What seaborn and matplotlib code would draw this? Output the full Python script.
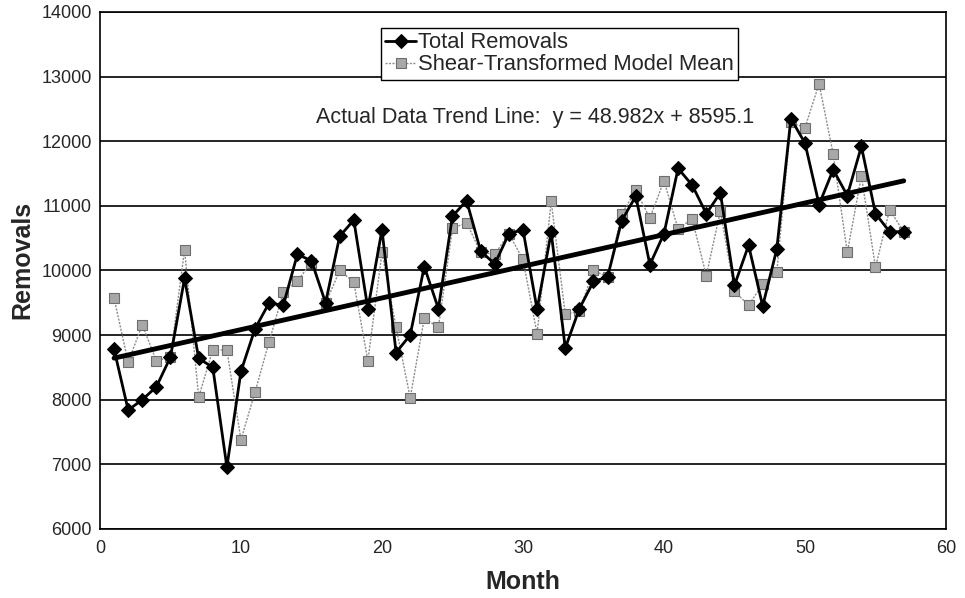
import numpy as np
import pandas as pd
import matplotlib
matplotlib.use("Agg")
import matplotlib.pyplot as plt
import seaborn as sns

# ---- data ----
months = list(range(1, 58))
total_removals = [8780, 7840, 8000, 8200, 8660, 9880, 8640, 8500, 6960, 8440,
                  9100, 9500, 9460, 10250, 10150, 9500, 10530, 10780, 9410, 10630,
                  8730, 9000, 10060, 9410, 10840, 11080, 10300, 10100, 10570, 10630,
                  9400, 10590, 8800, 9410, 9830, 9900, 10770, 11150, 10090, 10570,
                  11580, 11320, 10880, 11200, 9770, 10390, 9450, 10330, 12350, 11970,
                  11020, 11560, 11160, 11920, 10880, 10600, 10600]
model_mean = [9570, 8580, 9160, 8600, 8660, 10320, 8040, 8770, 8770, 7380,
              8120, 8900, 9660, 9840, 10120, 9490, 10000, 9820, 8600, 10280,
              9120, 8030, 9260, 9120, 10650, 10740, 10280, 10250, 10570, 10170,
              9020, 11070, 9320, 9370, 10000, 9900, 10870, 11240, 10810, 11390,
              10640, 10800, 9920, 10920, 9680, 9460, 9790, 9970, 12290, 12210,
              12890, 11800, 10280, 11460, 10050, 10940, 10600]
trend_slope = 48.982
trend_intercept = 8595.1
trend_x = [1, 57]
x_ticks = [0, 10, 20, 30, 40, 50, 60]
y_ticks = [6000, 7000, 8000, 9000, 10000, 11000, 12000, 13000, 14000]
series_names = ["Total Removals", "Shear-Transformed Model Mean"]
annotation = "Actual Data Trend Line:  y = 48.982x + 8595.1"

sns.set_style("white")
plt.rcParams['font.family'] = ['Liberation Sans', 'DejaVu Sans']

df_total = pd.DataFrame({"Month": months, "Removals": total_removals})
df_model = pd.DataFrame({"Month": months, "Removals": model_mean})
df_trend = pd.DataFrame({"Month": trend_x,
                         "Removals": [trend_slope * x + trend_intercept for x in trend_x]})

fig = plt.figure(figsize=(9.65, 5.98), dpi=100)
ax = fig.add_axes([0.1036, 0.1154, 0.8767, 0.8646])

for y in y_ticks:
    ax.axhline(y, color="black", lw=1.2, zorder=0)

sns.lineplot(data=df_model, x="Month", y="Removals", ax=ax, color="#8c8c8c",
             lw=1.0, linestyle=(0, (1.5, 1)), marker="s", markersize=7,
             markerfacecolor="#a8a8a8", markeredgecolor="#6e6e6e", markeredgewidth=0.8,
             label=series_names[1], zorder=3)
sns.lineplot(data=df_total, x="Month", y="Removals", ax=ax, color="black",
             lw=2.0, marker="D", markersize=7, markerfacecolor="black",
             markeredgecolor="black", label=series_names[0], zorder=4)
sns.lineplot(data=df_trend, x="Month", y="Removals", ax=ax, color="black",
             lw=3.5, zorder=5, legend=False)

ax.set_xlim(0, 60)
ax.set_ylim(6000, 14000)
ax.set_xticks(x_ticks)
ax.set_yticks(y_ticks)
ax.tick_params(axis="both", labelsize=13, length=4, width=1, color="black",
               direction="out", pad=2)
ax.tick_params(axis="x", pad=4)
for s in ax.spines.values():
    s.set_color("black")
    s.set_linewidth(1.2)

ax.set_xlabel("Month", fontsize=18, fontweight="bold", labelpad=9)
ax.set_ylabel("Removals", fontsize=18, fontweight="bold")
ax.yaxis.set_label_coords(-0.077, 0.52)

handles, labels = ax.get_legend_handles_labels()
order = [labels.index(series_names[0]), labels.index(series_names[1])]
leg = ax.legend([handles[i] for i in order], [labels[i] for i in order],
                loc="upper left", bbox_to_anchor=(0.332, 0.969), borderaxespad=0,
                fontsize=15.8, frameon=True, fancybox=False, edgecolor="black",
                framealpha=1, handlelength=1.4, handletextpad=0.1,
                borderpad=0.2, labelspacing=0.05)
leg.get_frame().set_linewidth(1.0)

ax.text(0.514, 0.795, annotation, transform=ax.transAxes, ha="center",
        va="center", fontsize=15.5)

fig.savefig("out.png", dpi=100)
